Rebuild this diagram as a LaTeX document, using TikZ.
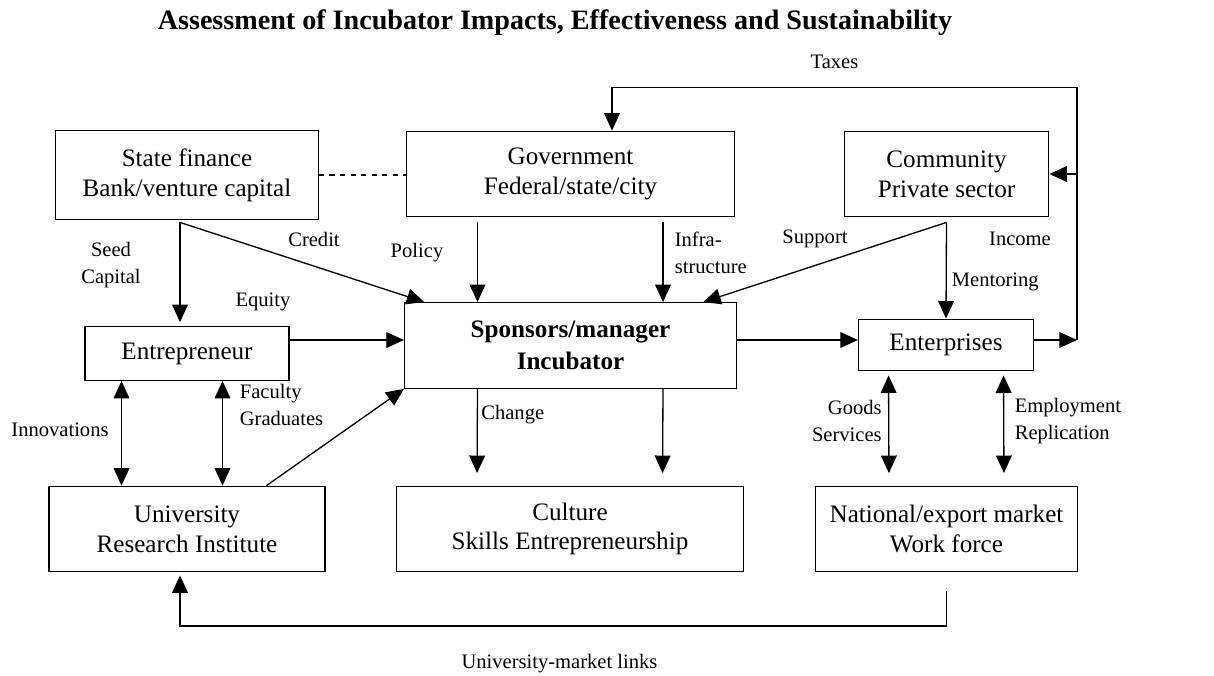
\documentclass[tikz,border=0pt]{standalone}
\usepackage{fontspec}
\setmainfont{Liberation Serif}
\usetikzlibrary{arrows.meta,calc}
\tikzset{
  block/.style={
    rectangle,
    draw=black,
    line width=0.75pt,
    align=center,
    inner sep=0pt,
    font=\fontsize{14.3}{17}\selectfont
    },
  arrow/.style={line width=0.75pt,-{Triangle[length=10pt,width=9pt]}},
  twoway/.style={line width=0.75pt,{Triangle[length=10pt,width=9pt]}-{Triangle[length=10pt,width=9pt]}},
  lbl/.style={font=\fontsize{11.7}{15.3}\selectfont, align=center, inner sep=0pt},
}

\begin{document}
\begin{tikzpicture}
    \useasboundingbox (0,0) rectangle (24.28,-13.5);

    % Title
    \node[font=\fontsize{16}{19}\selectfont\bfseries] (title) at (11.1,-0.46)
        {Assessment of Incubator Impacts, Effectiveness and Sustainability};

    % Draw the top row of boxes
    \node[block, minimum width=5.25cm, minimum height=1.77cm] (state) at (3.74,-3.50) {State finance\\Bank/venture capital};
    \node[block, minimum width=6.57cm, minimum height=1.71cm] (gov) at (11.41,-3.48) {Government\\Federal/state/city};
    \node[block, minimum width=4.09cm, minimum height=1.71cm] (comm) at (18.93,-3.48) {Community\\Private sector};

    % Draw the middle row
    \node[block, minimum width=4.08cm, minimum height=1.07cm] (entr) at (3.74,-7.07) {Entrepreneur};
    \node[block, minimum width=6.64cm, minimum height=1.71cm,
          font=\fontsize{14.3}{18}\selectfont\bfseries] (spons) at (11.41,-6.91) {Sponsors/manager\\Incubator};
    \node[block, minimum width=3.5cm, minimum height=1.03cm] (entp) at (18.92,-6.90) {Enterprises};

    % Draw the bottom row
    \node[block, minimum width=5.52cm, minimum height=1.71cm] (univ) at (3.74,-10.58) {University\\Research Institute};
    \node[block, minimum width=6.94cm, minimum height=1.71cm] (cult) at (11.40,-10.58) {Culture\\Skills Entrepreneurship};
    \node[block, minimum width=5.25cm, minimum height=1.71cm] (mkt) at (18.93,-10.58) {National/export market\\Work force};

    % Corners of the taxes loop
    \coordinate (taxR) at (21.54,-1.746);
    \coordinate (eq) at ([yshift=0.27cm]entr.east);
    \coordinate (out1) at ([yshift=0.11cm]spons.east);
    \coordinate (out2) at ([yshift=0.1cm]entp.east);

    % Connect the top row with the middle row
    \draw[dashed, line width=0.75pt] (state.east) -- (state.east -| gov.west);
    \draw[arrow, shorten >=0.08cm] ([xshift=-0.14cm,yshift=-0.05cm]state.south) -- ([xshift=-0.14cm]entr.north);
    \draw[arrow] ([xshift=-0.14cm,yshift=-0.05cm]state.south) -- ([xshift=0.41cm]spons.north west);
    \draw[arrow] ([xshift=-1.86cm,yshift=-0.1cm]gov.south) -- ([xshift=-1.86cm]spons.north);
    \draw[arrow] ([xshift=1.85cm,yshift=-0.1cm]gov.south) -- ([xshift=1.85cm]spons.north);
    \draw[arrow] ([yshift=-0.1cm]comm.south) -- ([xshift=-0.68cm]spons.north east);
    \draw[arrow] ([yshift=-0.1cm]comm.south) -- (entp.north);

    % Middle row flows
    \draw[arrow] (eq) -- (eq -| spons.west);
    \draw[arrow] (out1) -- (out1 -| entp.west);
    \draw[arrow] (out2) -- (out2 -| taxR);
    \draw[arrow] (out2 -| taxR) -- (taxR) -| ([xshift=0.83cm]gov.north);
    \draw[arrow] (comm.east -| taxR) -- (comm.east);

    % Connect the middle row with the bottom row
    \draw[twoway] ([xshift=-1.31cm]entr.south) -- ([xshift=-1.31cm]univ.north);
    \draw[twoway] ([xshift=0.71cm]entr.south) -- ([xshift=0.71cm]univ.north);
    \draw[arrow] ([xshift=1.59cm]univ.north) -- (spons.south west);
    \draw[arrow, shorten >=0.25cm] ([xshift=-1.86cm]spons.south) -- ([xshift=-1.86cm]cult.north);
    \draw[arrow, shorten >=0.25cm] ([xshift=1.85cm]spons.south) -- ([xshift=1.85cm]cult.north);
    \draw[twoway, shorten <=0.08cm, shorten >=0.25cm] ([xshift=-1.15cm]entp.south) -- ([xshift=-1.15cm]mkt.north);
    \draw[twoway, shorten <=0.08cm, shorten >=0.25cm] ([xshift=1.15cm]entp.south) -- ([xshift=1.15cm]mkt.north);

    % University-market links
    \draw[arrow] ([yshift=-0.37cm]mkt.south) -- ++(0,-0.7) -| ([xshift=-0.14cm,yshift=-0.06cm]univ.south);

    % Annotate the connectors
    \node[lbl] (l-seed) at (2.22,-5.3) {Seed\\Capital};
    \node[lbl] (l-credit) at (6.28,-4.78) {Credit};
    \node[lbl] (l-policy) at (8.34,-5.06) {Policy};
    \node[lbl] (l-equity) at (5.26,-6.03) {Equity};
    \node[lbl, anchor=west, align=left] (l-infra) at (13.49,-5.06) {Infra-\\structure};
    \node[lbl] (l-support) at (16.3,-4.78) {Support};
    \node[lbl] (l-income) at (20.4,-4.78) {Income};
    \node[lbl, anchor=west] (l-mentor) at (19.03,-5.63) {Mentoring};
    \node[lbl] (l-taxes) at (16.69,-1.23) {Taxes};
    \node[lbl] (l-innov) at (1.2,-8.6) {Innovations};
    \node[lbl, anchor=west, align=left] (l-faculty) at (4.79,-8.1) {Faculty\\Graduates};
    \node[lbl, anchor=west] (l-change) at (9.62,-8.3) {Change};
    \node[lbl, anchor=east, align=right] (l-goods) at (17.64,-8.42) {Goods\\Services};
    \node[lbl, anchor=west, align=left] (l-employ) at (20.29,-8.42) {Employment\\Replication};
    \node[lbl] (l-links) at (11.19,-13.27) {University-market links};
\end{tikzpicture}
\end{document}
